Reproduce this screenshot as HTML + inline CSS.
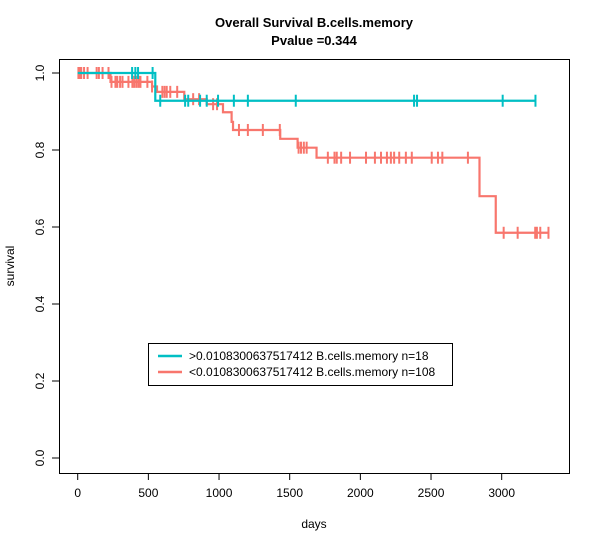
<!DOCTYPE html>
<html><head><meta charset="utf-8"><style>
html,body{margin:0;padding:0;background:#fff;}
svg{display:block;font-family:"Liberation Sans",Arial,sans-serif;}
</style></head><body>
<svg id="chart" width="600" height="547" viewBox="0 0 600 547" xmlns="http://www.w3.org/2000/svg">
<rect x="0" y="0" width="600" height="547" fill="#fff"/>
<text x="314" y="27" text-anchor="middle" font-size="13" font-weight="bold">Overall Survival B.cells.memory</text>
<text x="314" y="45" text-anchor="middle" font-size="13" font-weight="bold">Pvalue =0.344</text>
<rect x="59.5" y="59.5" width="510" height="414" fill="none" stroke="#000" stroke-width="1"/>
<g id="xaxis"></g>
<g id="yaxis"></g>
<text x="314" y="528" text-anchor="middle" font-size="12">days</text>
<text x="14" y="266" text-anchor="middle" font-size="12" transform="rotate(-90 14 266)">survival</text>
<g id="series"></g>
<g>
<rect x="148.5" y="343.5" width="304" height="42" fill="#fff" stroke="#000"/>
<line x1="158" y1="356" x2="182" y2="356" stroke="#00BFC4" stroke-width="2.5"/>
<text x="189" y="360" font-size="12">&gt;0.0108300637517412 B.cells.memory n=18</text>
<line x1="158" y1="372" x2="182" y2="372" stroke="#F8766D" stroke-width="2.5"/>
<text x="189" y="376" font-size="12">&lt;0.0108300637517412 B.cells.memory n=108</text>
</g>
</svg>
<script>
const xTicks=[0,500,1000,1500,2000,2500,3000];
const yTicks=[0,0.2,0.4,0.6,0.8,1.0];
const yTickLabels=["0.0","0.2","0.4","0.6","0.8","1.0"];
const highTimes=[0,549,3239];
const highSurv=[1.0,0.928,0.928];
const highCensor=[385,408,427,530,584,760,782,866,913,993,1105,1204,1543,2380,2401,3007,3239];
const lowTimes=[0,232,526,561,754,913,1028,1089,1099,1433,1556,1690,2843,2958,3331];
const lowSurv=[1.0,0.977,0.965,0.951,0.932,0.919,0.898,0.873,0.852,0.829,0.806,0.78,0.68,0.585,0.585];
const lowCensor=[5,15,25,45,70,134,150,176,218,239,267,280,300,317,359,387,400,415,430,444,493,526,599,615,630,655,704,817,859,958,986,1141,1204,1310,1430,1563,1580,1600,1620,1770,1817,1833,1864,1927,2040,2103,2146,2188,2216,2239,2275,2322,2364,2505,2549,2580,2761,3014,3113,3237,3249,3273,3331];
const NS="http://www.w3.org/2000/svg";
const X=d=>77.7+d*0.14133;
const Y=s=>458-s*385;
function mk(tag,attrs,parent){const e=document.createElementNS(NS,tag);for(const k in attrs)e.setAttribute(k,attrs[k]);parent.appendChild(e);return e;}
const xa=document.getElementById('xaxis'),ya=document.getElementById('yaxis'),sg=document.getElementById('series');
mk('line',{x1:X(0),x2:X(3000),y1:473.5,y2:473.5,stroke:'#000'},xa);
xTicks.forEach(t=>{
 const l=mk('line',{x1:X(t),x2:X(t),y1:473,y2:480,stroke:'#000'},xa);
 
 
 const tx=mk('text',{x:X(t),y:497,'text-anchor':'middle','font-size':12},xa);
 tx.textContent=t;
 
 
});
yTicks.forEach((t,i)=>{
 const l=mk('line',{x1:52,x2:59.5,y1:Y(t),y2:Y(t),stroke:'#000'},ya);
 
 
 const tx=mk('text',{x:44,y:Y(t),'text-anchor':'middle','font-size':12,transform:`rotate(-90 44 ${Y(t)})`},ya);
 tx.textContent=yTickLabels[i];
 
 
});
mk('line',{x1:59.5,x2:59.5,y1:Y(0),y2:Y(1),stroke:'#000'},ya);
function survAt(times,surv,t){let s=surv[0];for(let i=0;i<times.length;i++){if(times[i]<=t)s=surv[i];}return s;}
function drawCurve(times,surv,cens,color,name){
 let d=`M${X(times[0])},${Y(surv[0])}`;
 for(let i=1;i<times.length;i++){d+=` H${X(times[i])} V${Y(surv[i])}`;}
 const p=mk('path',{d:d,fill:'none',stroke:color,'stroke-width':2.2},sg);
 
 
 cens.forEach(c=>{
  const s=survAt(times,surv,c);
  const m=mk('line',{x1:X(c),x2:X(c),y1:Y(s)-6,y2:Y(s)+6,stroke:color,'stroke-width':2},sg);
  
  
 });
}
drawCurve(lowTimes,lowSurv,lowCensor,'#F8766D','low-group');
drawCurve(highTimes,highSurv,highCensor,'#00BFC4','high-group');
</script>
</body></html>
